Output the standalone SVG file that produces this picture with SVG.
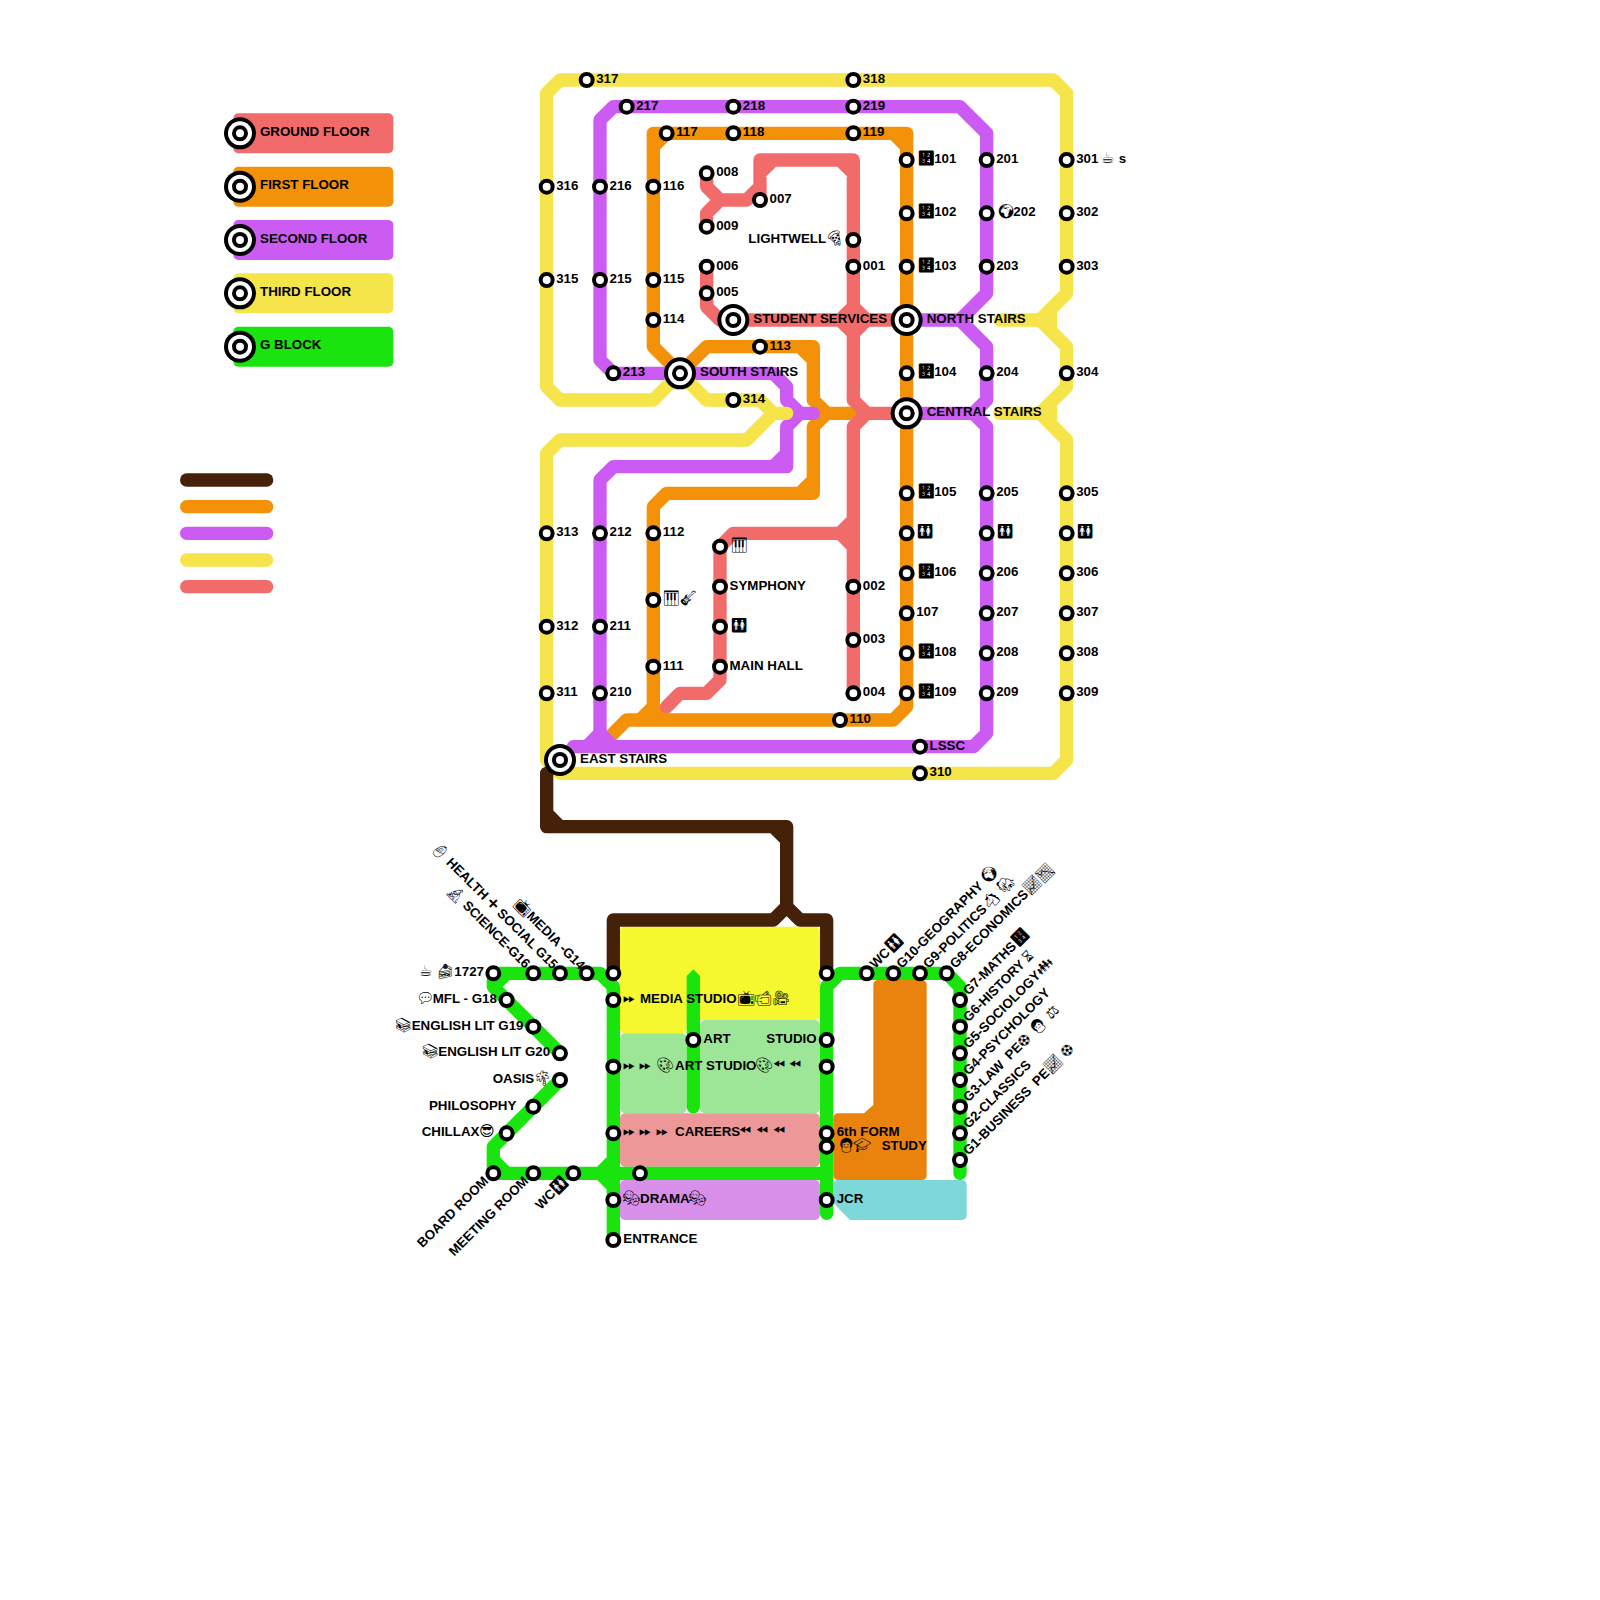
<svg xmlns="http://www.w3.org/2000/svg" width="1600" height="1600" viewBox="0 0 1600 1600">
<style>
text{font-family:"Liberation Sans",sans-serif;font-size:13.33px;font-weight:700;fill:#000;font-variant-emoji:text}
.m{font-weight:400;font-size:14.5px}
.e{text-anchor:end}
.s{fill:#fff;stroke:#000;stroke-width:4}
.l{fill:none;stroke-width:1;stroke-linecap:round;stroke-linejoin:round}
.br{stroke:#45210a}.or{stroke:#f39208}.pu{stroke:#cb5bf3}.ye{stroke:#f5e54a}.re{stroke:#f26b6b}.gr{stroke:#1ae40e}
.k{fill:#000}.w{fill:#fff}
.leg{stroke-width:13.33;stroke-linecap:round;fill:none}
</style>
<defs>
<g id="x"><circle class="k" r="16"/><circle class="w" r="12"/><circle class="k" r="8"/><circle class="w" r="4"/></g>
</defs>
<g id="legend">
<rect x="233.33" y="113.33" width="160" height="40" rx="5" fill="#f26b6b"/>
<rect x="233.33" y="166.67" width="160" height="40" rx="5" fill="#f39208"/>
<rect x="233.33" y="220" width="160" height="40" rx="5" fill="#cb5bf3"/>
<rect x="233.33" y="273.33" width="160" height="40" rx="5" fill="#f5e54a"/>
<rect x="233.33" y="326.67" width="160" height="40" rx="5" fill="#1ae40e"/>
<use href="#x" x="240" y="133.33"/><text x="260" y="136">GROUND FLOOR</text>
<use href="#x" x="240" y="186.67"/><text x="260" y="189.4">FIRST FLOOR</text>
<use href="#x" x="240" y="240"/><text x="260" y="242.7">SECOND FLOOR</text>
<use href="#x" x="240" y="293.33"/><text x="260" y="296">THIRD FLOOR</text>
<use href="#x" x="240" y="346.67"/><text x="260" y="349.4">G BLOCK</text>
<path class="leg br" d="M186.67 480H266.67"/>
<path class="leg or" d="M186.67 506.67H266.67"/>
<path class="leg pu" d="M186.67 533.33H266.67"/>
<path class="leg ye" d="M186.67 560H266.67"/>
<path class="leg re" d="M186.67 586.67H266.67"/>
</g>
<g id="rooms">
<rect x="620" y="926.67" width="200" height="93.33" rx="5" fill="#f5f82e"/>
<rect x="620" y="926.67" width="66.67" height="106.67" rx="5" fill="#f5f82e"/>
<rect x="620" y="1033.33" width="66.67" height="80" rx="5" fill="#9de597"/>
<rect x="700" y="1020" width="120" height="93.33" rx="5" fill="#9de597"/>
<rect x="620" y="1113.33" width="200" height="53.33" rx="5" fill="#ec9898"/>
<rect x="620" y="1180" width="200" height="40" rx="5" fill="#d88fea"/>
<path d="M878.33 980H921.67Q926.67 980 926.67 985V1175Q926.67 1180 921.67 1180H838.33Q833.33 1180 833.33 1175V1118.33Q833.33 1113.33 838.33 1113.33H864L873.33 1105V985Q873.33 980 878.33 980Z" fill="#e9830d"/>
<path d="M838.33 1180H961.67Q966.67 1180 966.67 1185V1215Q966.67 1220 961.67 1220H850L833.33 1203V1185Q833.33 1180 838.33 1180Z" fill="#7dd8da"/>
</g>
<g id="connectors" transform="scale(13.3333)">
<path class="l or" d="M51 28L53 26H61V27L60 26M61 27V30L62 31H64M62 31L61 32V37H60L61 36M60 37H50L49 38V53L48 54M49 53L50 54M51 28L49 26V11L50 10H49V11M50 10H68V11L67 10M68 11V53L67 54H47"/>
<path d="M47 54L45.8 55.2" fill="none" stroke="#f39208" stroke-width="1"/>
<path class="l pu" d="M51 28H58L59 29V30L60 31H61M60 31L59 32V35H58L59 34M58 35H46L45 36V55L44 56M45 55L46 56M43 56H73L74 55V32L73 31H68M73 31L74 30V26L72 24H68M72 24L74 22V10L72 8H46L45 9V27L46 28H51"/>
<path class="l re" d="M53 13V14L54 15L53 16V17M54 15H56L57 14V12H58L57 13M57 12H64V13L63 12M57 15V12M64 13V23L63 24L64 25V30L65 31L64 32V39L63 40H55L54 41V51L53 52H51L50 53M63 40L64 41V52M64 39V41M64 23L65 24L64 25V23M53 20V23L54 24H68M65 31H68"/>
<path class="l ye" d="M51 28L49 30H42L41 29V7L42 6H79L80 7V22L78 24H75M78 24L80 26V29L78 31H75M78 31L80 33V57L79 58H42L41 57V34L42 33H56L58 31H59L58 31L57 30H53L51 28M78.8 23.6V24.4M78.8 30.6V31.4"/>
<path class="l br" d="M41 58V62H42L41 61M42 62H58L59 63V62H58M59 63V68L58 69H46V73M59 68L60 69H62V73"/>
<path class="l gr" d="M37 73H45L46 74V93M37 73V74L38 73M37 74L42 79M42 81L37 86V88V87L38 88H37M38 88H62M46 87L45 88L46 89M62 91V74L63 73H71L72 74V88"/>
<path d="M51.5 73.2L52 72.7L52.5 73.2V83A.5 .5 0 0 1 51.5 83Z" fill="#1ae40e"/>
</g>
<g id="yellow-stations">
<g id="n317" transform="translate(586.67 80)"><circle class="s" r="6"/><text x="9.5" y="3">317</text></g>
<g id="n318" transform="translate(853.33 80)"><circle class="s" r="6"/><text x="9.5" y="3">318</text></g>
<g id="n316" transform="translate(546.67 186.67)"><circle class="s" r="6"/><text x="9.5" y="3">316</text></g>
<g id="n315" transform="translate(546.67 280)"><circle class="s" r="6"/><text x="9.5" y="3">315</text></g>
<g id="n314" transform="translate(733.33 400)"><circle class="s" r="6"/><text x="9.5" y="3">314</text></g>
<g id="n313" transform="translate(546.67 533.33)"><circle class="s" r="6"/><text x="9.5" y="3">313</text></g>
<g id="n312" transform="translate(546.67 626.67)"><circle class="s" r="6"/><text x="9.5" y="3">312</text></g>
<g id="n311" transform="translate(546.67 693.33)"><circle class="s" r="6"/><text x="9.5" y="3">311</text></g>
<g id="n301" transform="translate(1066.67 160)"><circle class="s" r="6"/><text x="9.5" y="3">301 <tspan class="m" x="34">☕ </tspan><tspan x="52">s</tspan></text></g>
<g id="n302" transform="translate(1066.67 213.33)"><circle class="s" r="6"/><text x="9.5" y="3">302</text></g>
<g id="n303" transform="translate(1066.67 266.67)"><circle class="s" r="6"/><text x="9.5" y="3">303</text></g>
<g id="n304" transform="translate(1066.67 373.33)"><circle class="s" r="6"/><text x="9.5" y="3">304</text></g>
<g id="n305" transform="translate(1066.67 493.33)"><circle class="s" r="6"/><text x="9.5" y="3">305</text></g>
<g id="n3wc" transform="translate(1066.67 533.33)"><circle class="s" r="6"/><text x="9.5" y="3"><tspan class="m">🚻</tspan></text></g>
<g id="n306" transform="translate(1066.67 573.33)"><circle class="s" r="6"/><text x="9.5" y="3">306</text></g>
<g id="n307" transform="translate(1066.67 613.33)"><circle class="s" r="6"/><text x="9.5" y="3">307</text></g>
<g id="n308" transform="translate(1066.67 653.33)"><circle class="s" r="6"/><text x="9.5" y="3">308</text></g>
<g id="n309" transform="translate(1066.67 693.33)"><circle class="s" r="6"/><text x="9.5" y="3">309</text></g>
<g id="n310" transform="translate(920 773.33)"><circle class="s" r="6"/><text x="9.5" y="3">310</text></g>
</g>
<g id="purple-stations">
<g id="n217" transform="translate(626.67 106.67)"><circle class="s" r="6"/><text x="9.5" y="3">217</text></g>
<g id="n218" transform="translate(733.33 106.67)"><circle class="s" r="6"/><text x="9.5" y="3">218</text></g>
<g id="n219" transform="translate(853.33 106.67)"><circle class="s" r="6"/><text x="9.5" y="3">219</text></g>
<g id="n216" transform="translate(600 186.67)"><circle class="s" r="6"/><text x="9.5" y="3">216</text></g>
<g id="n215" transform="translate(600 280)"><circle class="s" r="6"/><text x="9.5" y="3">215</text></g>
<g id="n213" transform="translate(613.33 373.33)"><circle class="s" r="6"/><text x="9.5" y="3">213</text></g>
<g id="n212" transform="translate(600 533.33)"><circle class="s" r="6"/><text x="9.5" y="3">212</text></g>
<g id="n211" transform="translate(600 626.67)"><circle class="s" r="6"/><text x="9.5" y="3">211</text></g>
<g id="n210" transform="translate(600 693.33)"><circle class="s" r="6"/><text x="9.5" y="3">210</text></g>
<g id="n201" transform="translate(986.67 160)"><circle class="s" r="6"/><text x="9.5" y="3">201</text></g>
<g id="n202" transform="translate(986.67 213.33)"><circle class="s" r="6"/><text y="3"><tspan class="m" x="10">🌍 </tspan><tspan x="26.7">202</tspan></text></g>
<g id="n203" transform="translate(986.67 266.67)"><circle class="s" r="6"/><text x="9.5" y="3">203</text></g>
<g id="n204" transform="translate(986.67 373.33)"><circle class="s" r="6"/><text x="9.5" y="3">204</text></g>
<g id="n205" transform="translate(986.67 493.33)"><circle class="s" r="6"/><text x="9.5" y="3">205</text></g>
<g id="n2wc" transform="translate(986.67 533.33)"><circle class="s" r="6"/><text x="9.5" y="3"><tspan class="m">🚻</tspan></text></g>
<g id="n206" transform="translate(986.67 573.33)"><circle class="s" r="6"/><text x="9.5" y="3">206</text></g>
<g id="n207" transform="translate(986.67 613.33)"><circle class="s" r="6"/><text x="9.5" y="3">207</text></g>
<g id="n208" transform="translate(986.67 653.33)"><circle class="s" r="6"/><text x="9.5" y="3">208</text></g>
<g id="n209" transform="translate(986.67 693.33)"><circle class="s" r="6"/><text x="9.5" y="3">209</text></g>
<g id="nLSSC" transform="translate(920 746.67)"><circle class="s" r="6"/><text x="9.5" y="3">LSSC</text></g>
</g>
<g id="orange-stations">
<g id="n117" transform="translate(666.67 133.33)"><circle class="s" r="6"/><text x="9.5" y="3">117</text></g>
<g id="n118" transform="translate(733.33 133.33)"><circle class="s" r="6"/><text x="9.5" y="3">118</text></g>
<g id="n119" transform="translate(853.33 133.33)"><circle class="s" r="6"/><text x="9.5" y="3">119</text></g>
<g id="n116" transform="translate(653.33 186.67)"><circle class="s" r="6"/><text x="9.5" y="3">116</text></g>
<g id="n115" transform="translate(653.33 280)"><circle class="s" r="6"/><text x="9.5" y="3">115</text></g>
<g id="n114" transform="translate(653.33 320)"><circle class="s" r="6"/><text x="9.5" y="3">114</text></g>
<g id="n113" transform="translate(760 346.67)"><circle class="s" r="6"/><text x="9.5" y="3">113</text></g>
<g id="n112" transform="translate(653.33 533.33)"><circle class="s" r="6"/><text x="9.5" y="3">112</text></g>
<g id="nMusic" transform="translate(653.33 600)"><circle class="s" r="6"/><text y="3"><tspan class="m" x="9">🎹</tspan><tspan class="m" x="26">🎸</tspan></text></g>
<g id="n111" transform="translate(653.33 666.67)"><circle class="s" r="6"/><text x="9.5" y="3">111</text></g>
<g id="n110" transform="translate(840 720)"><circle class="s" r="6"/><text x="9.5" y="3">110</text></g>
<g id="n101" transform="translate(906.67 160)"><circle class="s" r="6"/><text y="3"><tspan class="m" x="10">🔢 </tspan><tspan x="27.5">101</tspan></text></g>
<g id="n102" transform="translate(906.67 213.33)"><circle class="s" r="6"/><text y="3"><tspan class="m" x="10">🔢 </tspan><tspan x="27.5">102</tspan></text></g>
<g id="n103" transform="translate(906.67 266.67)"><circle class="s" r="6"/><text y="3"><tspan class="m" x="10">🔢 </tspan><tspan x="27.5">103</tspan></text></g>
<g id="n104" transform="translate(906.67 373.33)"><circle class="s" r="6"/><text y="3"><tspan class="m" x="10">🔢 </tspan><tspan x="27.5">104</tspan></text></g>
<g id="n105" transform="translate(906.67 493.33)"><circle class="s" r="6"/><text y="3"><tspan class="m" x="10">🔢 </tspan><tspan x="27.5">105</tspan></text></g>
<g id="n1wc" transform="translate(906.67 533.33)"><circle class="s" r="6"/><text x="9.5" y="3"><tspan class="m">🚻</tspan></text></g>
<g id="n106" transform="translate(906.67 573.33)"><circle class="s" r="6"/><text y="3"><tspan class="m" x="10">🔢 </tspan><tspan x="27.5">106</tspan></text></g>
<g id="n107" transform="translate(906.67 613.33)"><circle class="s" r="6"/><text x="9.5" y="3">107</text></g>
<g id="n108" transform="translate(906.67 653.33)"><circle class="s" r="6"/><text y="3"><tspan class="m" x="10">🔢 </tspan><tspan x="27.5">108</tspan></text></g>
<g id="n109" transform="translate(906.67 693.33)"><circle class="s" r="6"/><text y="3"><tspan class="m" x="10">🔢 </tspan><tspan x="27.5">109</tspan></text></g>
</g>
<g id="red-stations">
<g id="n008" transform="translate(706.67 173.33)"><circle class="s" r="6"/><text x="9.5" y="3">008</text></g>
<g id="n007" transform="translate(760 200)"><circle class="s" r="6"/><text x="9.5" y="3">007</text></g>
<g id="n009" transform="translate(706.67 226.67)"><circle class="s" r="6"/><text x="9.5" y="3">009</text></g>
<g id="nLightwell" transform="translate(853.33 240)"><circle class="s" r="6"/><text y="3"><tspan x="-105">LIGHTWELL</tspan><tspan class="m" x="-28">🍕</tspan></text></g>
<g id="n001" transform="translate(853.33 266.67)"><circle class="s" r="6"/><text x="9.5" y="3">001</text></g>
<g id="n006" transform="translate(706.67 266.67)"><circle class="s" r="6"/><text x="9.5" y="3">006</text></g>
<g id="n005" transform="translate(706.67 293.33)"><circle class="s" r="6"/><text x="9.5" y="3">005</text></g>
<g id="nPiano" transform="translate(720 546.67)"><circle class="s" r="6"/><text x="9.5" y="3"><tspan class="m">🎹</tspan></text></g>
<g id="nSymphony" transform="translate(720 586.67)"><circle class="s" r="6"/><text x="9.5" y="3">SYMPHONY</text></g>
<g id="n0wc" transform="translate(720 626.67)"><circle class="s" r="6"/><text x="9.5" y="3"><tspan class="m">🚻</tspan></text></g>
<g id="nMainHall" transform="translate(720 666.67)"><circle class="s" r="6"/><text x="9.5" y="3">MAIN HALL</text></g>
<g id="n002" transform="translate(853.33 586.67)"><circle class="s" r="6"/><text x="9.5" y="3">002</text></g>
<g id="n003" transform="translate(853.33 640)"><circle class="s" r="6"/><text x="9.5" y="3">003</text></g>
<g id="n004" transform="translate(853.33 693.33)"><circle class="s" r="6"/><text x="9.5" y="3">004</text></g>
</g>
<g id="stairs">
<g id="nStudentServices" transform="translate(733.33 320)"><use href="#x"/><text x="20" y="3">STUDENT SERVICES</text></g>
<g id="nNorthStairs" transform="translate(906.67 320)"><use href="#x"/><text x="20" y="3">NORTH STAIRS</text></g>
<g id="nSouthStairs" transform="translate(680 373.33)"><use href="#x"/><text x="20" y="3">SOUTH STAIRS</text></g>
<g id="nCentralStairs" transform="translate(906.67 413.33)"><use href="#x"/><text x="20" y="3">CENTRAL STAIRS</text></g>
<g id="nEastStairs" transform="translate(560 760)"><use href="#x"/><text x="20" y="3">EAST STAIRS</text></g>
</g>
<g id="g-block-stations">
<g id="n1727" transform="translate(493.33 973.33)"><circle class="s" r="6"/><text y="3"><tspan class="m" x="-74">☕ </tspan><tspan class="m" x="-57">🍰 </tspan><tspan x="-39">1727</tspan></text></g>
<g id="nG16" transform="translate(533.33 973.33)"><circle class="s" r="6"/><text class="e" transform="rotate(45)" x="-9" y="3"><tspan class="m">🔬 </tspan>SCIENCE-G16</text></g>
<g id="nG15" transform="translate(560 973.33)"><circle class="s" r="6"/><text class="e" transform="rotate(45)" x="-8" y="3"><tspan class="m">👶 </tspan>HEALTH <tspan class="m">➕ </tspan>SOCIAL G15</text></g>
<g id="nG14" transform="translate(586.67 973.33)"><circle class="s" r="6"/><text class="e" transform="rotate(45)" x="-7" y="3"><tspan class="m">📺</tspan>MEDIA -G14</text></g>
<g id="nG18" transform="translate(506.67 1000)"><circle class="s" r="6"/><text y="3"><tspan class="m" x="-91">💬</tspan><tspan x="-74">MFL - G18</tspan></text></g>
<g id="nG19" transform="translate(533.33 1026.67)"><circle class="s" r="6"/><text y="3"><tspan class="m" x="-139">📚</tspan><tspan x="-121.7">ENGLISH LIT G19</tspan></text></g>
<g id="nG20" transform="translate(560 1053.33)"><circle class="s" r="6"/><text y="3"><tspan class="m" x="-139">📚</tspan><tspan x="-121.7">ENGLISH LIT G20</tspan></text></g>
<g id="nOasis" transform="translate(560 1080)"><circle class="s" r="6"/><text y="3"><tspan x="-67.3">OASIS</tspan><tspan class="m" x="-27">🌴</tspan></text></g>
<g id="nPhilosophy" transform="translate(533.33 1106.67)"><circle class="s" r="6"/><text class="e" x="-17" y="3">PHILOSOPHY</text></g>
<g id="nChillax" transform="translate(506.67 1133.33)"><circle class="s" r="6"/><text y="3"><tspan x="-85">CHILLAX</tspan><tspan class="m" x="-27.5">😎</tspan></text></g>
<g id="nBoardRoom" transform="translate(493.33 1173.33)"><circle class="s" r="6"/><text class="e" transform="rotate(-45)" x="-9" y="3">BOARD ROOM</text></g>
<g id="nMeetingRoom" transform="translate(533.33 1173.33)"><circle class="s" r="6"/><text class="e" transform="rotate(-45)" x="-9" y="3">MEETING ROOM</text></g>
<g id="nGwcL" transform="translate(573.33 1173.33)"><circle class="s" r="6"/><text class="e" transform="rotate(-45)" x="-9" y="3">WC<tspan class="m">🚻</tspan></text></g>
<g id="nTop46" transform="translate(613.33 973.33)"><circle class="s" r="6"/></g>
<g id="nMedia" transform="translate(613.33 1000)"><circle class="s" r="6"/><text y="3"><tspan class="m" x="9.5">⏩ </tspan><tspan x="26.7">MEDIA STUDIO</tspan><tspan class="m" x="123.5">📺 </tspan><tspan class="m" x="141">📹 </tspan><tspan class="m" x="158.5">🎥</tspan></text></g>
<g id="nArt" transform="translate(613.33 1066.67)"><circle class="s" r="6"/><text y="3"><tspan class="m" x="9.5">⏩ </tspan><tspan class="m" x="26">⏩ </tspan><tspan class="m" x="43">🎨</tspan><tspan x="61.7">ART STUDIO</tspan><tspan class="m" x="141.5">🎨 </tspan><tspan class="m" x="159.5">⏪ </tspan><tspan class="m" x="176">⏪</tspan></text></g>
<g id="nCareers" transform="translate(613.33 1133.33)"><circle class="s" r="6"/><text y="3"><tspan class="m" x="9.5">⏩ </tspan><tspan class="m" x="26">⏩ </tspan><tspan class="m" x="43">⏩ </tspan><tspan x="61.7">CAREERS</tspan><tspan class="m" x="126">⏪ </tspan><tspan class="m" x="143">⏪ </tspan><tspan class="m" x="159.5">⏪</tspan></text></g>
<g id="nDrama" transform="translate(613.33 1200)"><circle class="s" r="6"/><text y="3"><tspan class="m" x="8.5">🎭</tspan><tspan x="26.7">DRAMA</tspan><tspan class="m" x="75">🎭</tspan></text></g>
<g id="nEntrance" transform="translate(613.33 1240)"><circle class="s" r="6"/><text x="10" y="3">ENTRANCE</text></g>
<g id="n48-88" transform="translate(640 1173.33)"><circle class="s" r="6"/></g>
<g id="nArt2" transform="translate(693.33 1040)"><circle class="s" r="6"/><text x="10" y="3">ART</text></g>
<g id="nTop62" transform="translate(826.67 973.33)"><circle class="s" r="6"/></g>
<g id="nStudio" transform="translate(826.67 1040)"><circle class="s" r="6"/><text class="e" x="-10" y="3">STUDIO</text></g>
<g id="n62-80" transform="translate(826.67 1066.67)"><circle class="s" r="6"/></g>
<g id="n6thForm" transform="translate(826.67 1133.33)"><circle class="s" r="6"/><text x="10" y="3">6th FORM</text></g>
<g id="n6thStudy" transform="translate(826.67 1146.67)"><circle class="s" r="6"/><text y="3"><tspan class="m" x="10">👩 </tspan><tspan class="m" x="26.5">🎓 </tspan><tspan x="55">STUDY</tspan></text></g>
<g id="nJCR" transform="translate(826.67 1200)"><circle class="s" r="6"/><text x="10" y="3">JCR</text></g>
<g id="nGwcR" transform="translate(866.67 973.33)"><circle class="s" r="6"/><text transform="rotate(-45)" x="9" y="3">WC<tspan class="m">🚻</tspan></text></g>
<g id="nG10" transform="translate(893.33 973.33)"><circle class="s" r="6"/><text transform="rotate(-45)" x="9" y="3">G10-GEOGRAPHY <tspan class="m">🌍</tspan></text></g>
<g id="nG9" transform="translate(920 973.33)"><circle class="s" r="6"/><text transform="rotate(-45)" x="9" y="3">G9-POLITICS<tspan class="m">🐴 🐘</tspan></text></g>
<g id="nG8" transform="translate(946.67 973.33)"><circle class="s" r="6"/><text transform="rotate(-45)" x="9" y="3">G8-ECONOMICS<tspan class="m">📈📉</tspan></text></g>
<g id="nG7" transform="translate(960 1000)"><circle class="s" r="6"/><text transform="rotate(-45)" x="9" y="3">G7-MATHS<tspan class="m">🔢</tspan></text></g>
<g id="nG6" transform="translate(960 1026.67)"><circle class="s" r="6"/><text transform="rotate(-45)" x="9" y="3">G6-HISTORY <tspan class="m">⏳</tspan></text></g>
<g id="nG5" transform="translate(960 1053.33)"><circle class="s" r="6"/><text transform="rotate(-45)" x="9" y="3">G5-SOCIOLOGY<tspan class="m">👪</tspan></text></g>
<g id="nG4" transform="translate(960 1080)"><circle class="s" r="6"/><text transform="rotate(-45)" x="9" y="3">G4-PSYCHOLOGY</text></g>
<g id="nG3" transform="translate(960 1106.67)"><circle class="s" r="6"/><text transform="rotate(-45)" x="9" y="3">G3-LAW&#160;&#160;PE<tspan class="m">⚽ 👩 ⚖</tspan></text></g>
<g id="nG2" transform="translate(960 1133.33)"><circle class="s" r="6"/><text transform="rotate(-45)" x="9" y="3">G2-CLASSICS</text></g>
<g id="nG1" transform="translate(960 1160)"><circle class="s" r="6"/><text transform="rotate(-45)" x="9" y="3">G1-BUSINESS&#160;&#160;PE<tspan class="m">📈 ⚽</tspan></text></g>
</g>
</svg>
